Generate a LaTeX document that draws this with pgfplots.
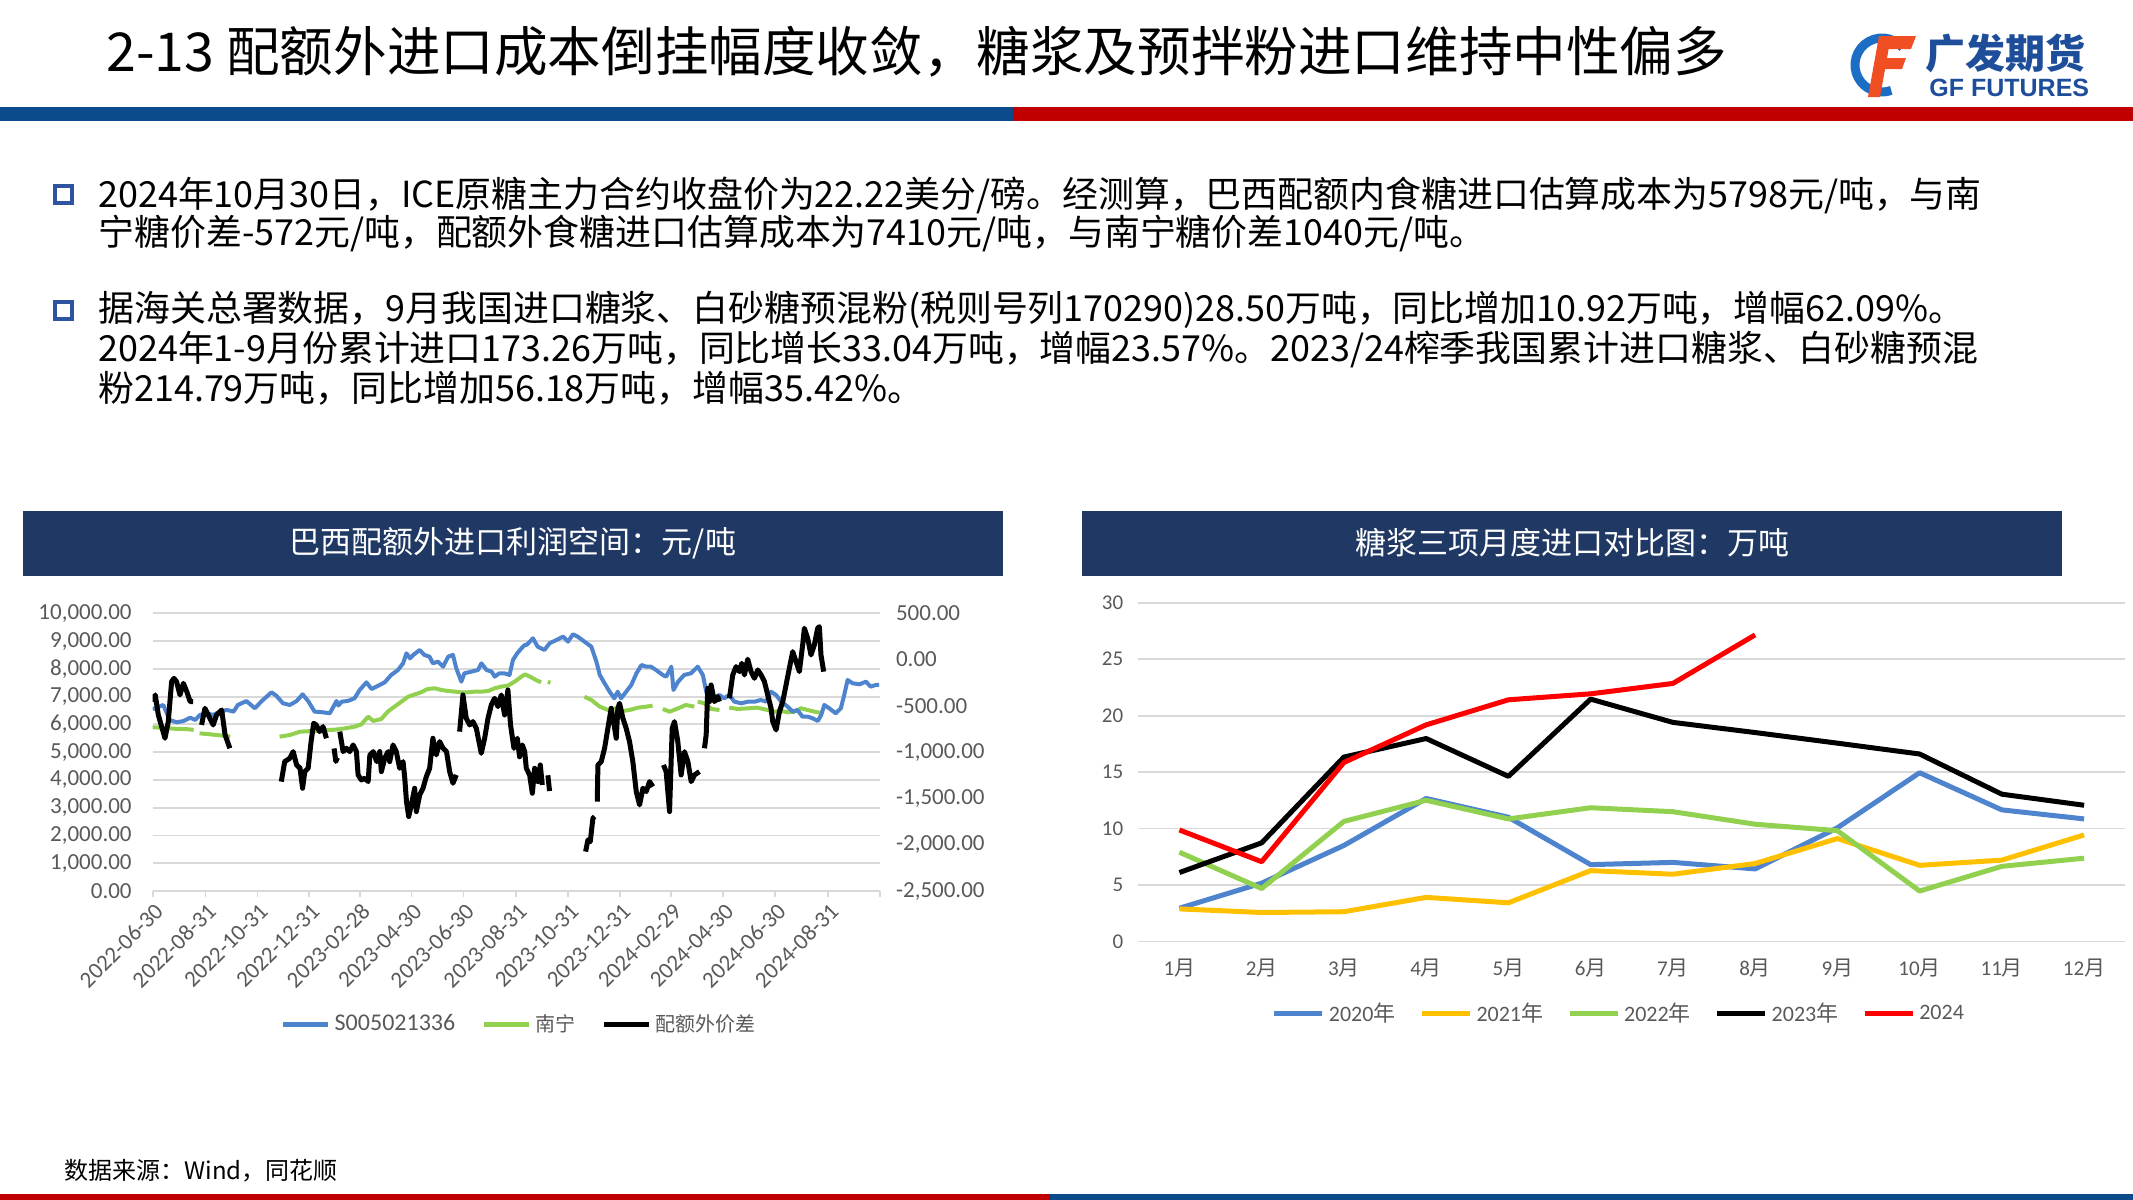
\documentclass[border=0pt]{standalone}
\usepackage{pgfplots}
\pgfplotsset{compat=1.18}
\usepackage{pgfplotstable}
\usepackage{fontspec}
\setmainfont{Carlito}
\newfontfamily\cjk{Noto Sans CJK SC}
\newfontfamily\lsans{Liberation Sans}

\definecolor{navy}{HTML}{1F3864}
\definecolor{bandblue}{HTML}{0B4A8B}
\definecolor{bandred}{HTML}{C00000}
\definecolor{sblue}{HTML}{4E83CD}
\definecolor{sgreen}{HTML}{92D050}
\definecolor{syellow}{HTML}{FFC000}
\definecolor{sred}{HTML}{FF0000}
\definecolor{gridc}{HTML}{D9D9D9}
\definecolor{tickc}{HTML}{595959}
\definecolor{bulletc}{HTML}{2E54A1}
\definecolor{logoblue}{HTML}{1E4E9A}
\definecolor{logoorange}{HTML}{F04E23}

% days since 2022-06-30
\pgfplotstableread{
d v
0 6550
6 6620
12.4 6700
20 6160
28 6075
36 6120
44 6240
50 6160
55.5 6340
63 6400
71 6340
79 6460
87 6520
95 6460
100 6700
110 6840
120 6580
128 6840
139.5 7155
145 7035
153 6760
161 6700
169 6840
176 7083
182.5 6843
190 6460
200 6435
208 6400
215.8 6843
218 6680
222 6819
229 6843
237 6939
243 7239
251 7515
257 7275
265 7395
272.5 7515
280 7779
288 7959
294 8199
298 8560
302 8380
306 8500
313.5 8680
319 8500
325 8440
329 8199
335 8259
341 8079
347 8440
352.6 8500
356.5 8019
362.4 7539
366 7839
374 7899
382 7959
386 8199
392 7959
398 7899
401.5 7719
407 7839
413 7839
419 7779
423 8319
428 8560
433 8740
437 8860
439 8860
446.5 9100
452 8800
460 8680
466 8920
474 9040
482 9160
487.6 8980
493.5 9244
499 9160
507 8980
515 8800
521 8259
525 7779
530.6 7479
536.5 7179
542 6939
546 7179
550 6939
556 7179
562 7419
568 7839
574 8139
579.5 8079
585 8079
591 7959
599 7779
603 7719
609 8079
611.5 7239
617 7539
624 7779
632 7839
640 8079
646 7779
650 7180
652 6939
658 6939
665.5 7059
671 6939
677 7059
683 6819
691 6759
699 6819
707 6819
714 6879
720 6819
726 7179
732 7059
738 6819
745.6 6639
751.5 6459
757 6519
763 6279
769 6279
775 6219
781 6123
785 6339
788.6 6699
794.5 6579
802 6399
808 6579
812 7059
816 7599
822 7479
830 7443
837.5 7539
843 7359
849 7419
853 7419
}\tblue

\pgfplotstableread{
d v
0 5900
10 5880
18 5860
28 5840
40 5830
48 5800
nan nan
55 5678
65 5650
75 5618
85 5590
91 5558
nan nan
149 5558
161 5618
173 5738
188 5762
200 5790
214 5810
226 5858
237 5918
245 6000
253 6279
259 6123
268.5 6195
276 6459
284 6639
292 6819
300 6999
308 7083
315 7155
323 7275
331 7299
339 7239
347 7203
355 7179
362 7155
370 7155
378 7179
386 7179
394 7203
401.5 7299
409 7359
417 7395
425 7539
433 7719
437 7803
443 7719
450 7599
456 7515
nan nan
464 7530
467 7500
nan nan
507 6999
515 6879
525 6639
534.5 6519
544 6579
552 6483
560 6519
570 6603
579.5 6639
587 6675
nan nan
599 6555
607 6459
617 6579
626 6699
636 6639
nan nan
640 6819
648 6759
656 6555
665.5 6519
nan nan
677 6603
687 6555
699 6579
710 6603
722 6519
730 6459
738 6483
746 6435
753.5 6459
761 6579
769 6519
777 6459
787 6399
}\tgreen

\pgfplotstableread{
d v
0 -454
3 -382
6.6 -598
14.4 -850
18.3 -670
22.2 -238
25 -202
28 -238
32 -382
36 -256
40 -346
44 -454
47.6 -454
nan nan
57.4 -706
61.3 -526
67.2 -634
71 -706
75 -598
81 -544
85 -814
90.6 -958
nan nan
151 -1318
155 -1102
161 -1066
165 -994
169 -1138
173 -1174
176 -1390
178.6 -1210
182.5 -1174
186 -886
189 -688
192 -706
196 -778
200 -724
204 -850
nan nan
213 -960
215 -1100
217 -1060
nan nan
219.7 -778
223.6 -994
227.5 -958
231.4 -994
235.3 -922
239.2 -994
241.2 -1246
245 -1300
249 -1282
253 -1318
255 -1030
259 -994
263 -1102
266.6 -994
268.5 -1210
272.5 -1066
276.4 -994
278.3 -1102
282.2 -922
286 -994
290 -1174
294 -1102
296 -1282
298 -1534
300.6 -1696
303.7 -1570
307.6 -1390
309.6 -1642
313.5 -1462
317.4 -1390
321.3 -1264
325.2 -1174
329 -850
333 -1030
337 -886
341 -958
345 -994
348.7 -1210
352.6 -1336
356.5 -1246
nan nan
360.4 -778
364.3 -382
368.2 -634
372.2 -706
376 -670
380 -742
385.8 -1012
389.8 -850
393.7 -634
397.6 -490
401.5 -418
405.4 -508
409.3 -382
413.2 -598
417.1 -328
420.2 -706
424.2 -958
428.1 -850
430.8 -1050
434 -922
436.8 -994
438.7 -1174
442.6 -1246
445.8 -1444
448.5 -1174
452.4 -1318
455.1 -1138
457.5 -1354
nan nan
464 -1250
466 -1420
nan nan
508.3 -2074
511.1 -1948
513.8 -1966
516.9 -1714
518.9 -1696
nan nan
522 -1534
522.8 -1138
526.7 -1102
530.6 -958
534.5 -742
538.4 -526
541.2 -670
544.3 -850
546.2 -526
548.2 -472
552.1 -634
556 -742
559.9 -886
563.8 -1102
567.8 -1426
571.7 -1570
575.6 -1390
579.5 -1426
583.4 -1318
587.3 -1372
nan nan
599.8 -1138
602.9 -1210
606.9 -1642
610 -742
612.7 -670
616.6 -886
620.5 -1246
624.4 -994
628.4 -1102
632.3 -1318
636.2 -1246
642 -1210
nan nan
647.9 -958
649.9 -814
651.8 -310
653.8 -454
655.7 -274
659.6 -454
663.5 -400
665.5 -454
nan nan
677.2 -418
681.1 -166
685 -76
689 -130
691.7 -40
694.8 -166
698.7 4
702.6 -130
706.6 -202
710.5 -112
714.4 -166
718.3 -238
722.2 -382
726.1 -526
728.1 -670
732 -760
735.9 -562
739.8 -454
743.7 -274
747.6 -94
751.5 86
755.4 -22
759.3 -130
763.2 158
765.2 338
769.1 230
773 50
776.9 158
780.8 338
782.8 356
784.7 50
787.9 -130
}\tblack

\begin{document}
\begin{tikzpicture}
\path[use as bounding box] (0,0) rectangle (1066.5pt,-600pt);

\begin{scope}[x=0.5pt,y=-0.5pt]
% title and bands
\node[anchor=west, inner sep=0] at (106,52) {\cjk\fontsize{26.8}{32}\selectfont 2-13 配额外进口成本倒挂幅度收敛，糖浆及预拌粉进口维持中性偏多};
\fill[bandblue] (0,107) rectangle (1013,121);
\fill[bandred] (1013,107) rectangle (2133,121);
\fill[bandred] (0,1194) rectangle (1050,1200);
\fill[bandblue] (1050,1194) rectangle (2133,1200);

% logo
\draw[line width=4.5pt, color={rgb,255:red,28;green,110;blue,196}] (1882,65) ++(-40:27) arc[start angle=-40, end angle=-290, radius=27];
\fill[logoorange] (1884,36) -- (1916,36) -- (1911,49) -- (1879,49) -- cycle;
\fill[logoorange] (1878,58) -- (1906,58) -- (1902,69) -- (1874,69) -- cycle;
\fill[logoorange] (1879,36) -- (1891,36) -- (1880,97) -- (1868,97) -- cycle;
\node[anchor=west, inner sep=0, text=logoblue] at (1925,53) {\cjk\bfseries\fontsize{20}{22}\selectfont 广发期货};
\node[anchor=west, inner sep=0, text=logoblue] at (1929,88) {\lsans\bfseries\fontsize{12.5}{14}\selectfont GF FUTURES};

% bullets
\draw[bulletc, line width=2.3pt] (55,186) rectangle (72,203);
\draw[bulletc, line width=2.3pt] (55,302) rectangle (72,319);
\begin{scope}[every node/.style={anchor=west, inner sep=0, font=\cjk\fontsize{17.95}{20}\selectfont}]
\node at (98,195) {2024年10月30日，ICE原糖主力合约收盘价为22.22美分/磅。经测算，巴西配额内食糖进口估算成本为5798元/吨，与南};
\node at (98,234) {宁糖价差-572元/吨，配额外食糖进口估算成本为7410元/吨，与南宁糖价差1040元/吨。};
\node at (98,310) {据海关总署数据，9月我国进口糖浆、白砂糖预混粉(税则号列170290)28.50万吨，同比增加10.92万吨，增幅62.09\%。};
\node at (98,349) {2024年1-9月份累计进口173.26万吨，同比增长33.04万吨，增幅23.57\%。2023/24榨季我国累计进口糖浆、白砂糖预混};
\node at (98,388) {粉214.79万吨，同比增加56.18万吨，增幅35.42\%。};
\end{scope}

% chart headers
\fill[navy] (23,511) rectangle (1003,576);
\fill[navy] (1082,511) rectangle (2062,576);
\node[text=white] at (513,543) {\cjk\fontsize{15.5}{18}\selectfont 巴西配额外进口利润空间：元/吨};
\node[text=white] at (1572,543) {\cjk\fontsize{15.5}{18}\selectfont 糖浆三项月度进口对比图：万吨};

% source
\node[anchor=west, inner sep=0] at (64,1171) {\cjk\fontsize{12}{14}\selectfont 数据来源：Wind，同花顺};
\end{scope}

% ---------------- left chart: left y axis ----------------
\begin{axis}[
  at={(76.35pt,-445.5pt)}, anchor=south west,
  scale only axis, width=363.65pt, height=138.85pt,
  xmin=0, xmax=854, ymin=0, ymax=10000,
  axis y line*=left, axis x line*=bottom,
  y axis line style={draw=none},
  x axis line style={gridc, line width=0.9pt},
  ytick={0,1000,...,10000},
  ymajorgrids, grid style={gridc, line width=0.9pt},
  xtick={0,62,123,184,243,304,365,427,488,549,609,670,731,793,854},
  xticklabels={2022-06-30,2022-08-31,2022-10-31,2022-12-31,2023-02-28,2023-04-30,2023-06-30,2023-08-31,2023-10-31,2023-12-31,2024-02-29,2024-04-30,2024-06-30,2024-08-31,{}},
  tick align=outside, major tick length=3pt,
  xtick style={gridc, line width=0.9pt},
  ytick style={draw=none},
  scaled y ticks=false,
  unbounded coords=jump,
  tick label style={font=\fontsize{11.5}{13}\selectfont, text=tickc},
  xticklabel style={rotate=45, anchor=east, xshift=2pt, yshift=-6pt},
  yticklabel style={xshift=-4pt, /pgf/number format/.cd, fixed, fixed zerofill, precision=2, 1000 sep={,}, assume math mode=true},
]
\addplot[sgreen, line width=2pt, line join=round] table[x=d, y=v] {\tgreen};
\addplot[sblue, line width=2pt, line join=round] table[x=d, y=v] {\tblue};
\end{axis}

% ---------------- left chart: right y axis ----------------
\begin{axis}[
  at={(76.35pt,-445.5pt)}, anchor=south west,
  scale only axis, width=363.65pt, height=138.85pt,
  xmin=0, xmax=854, ymin=-2500, ymax=500,
  axis y line*=right, axis x line=none,
  y axis line style={draw=none},
  ytick={-2500,-2000,...,500},
  ytick style={draw=none},
  scaled y ticks=false,
  unbounded coords=jump,
  tick label style={font=\fontsize{11.5}{13}\selectfont, text=tickc},
  yticklabel style={xshift=4.5pt, /pgf/number format/.cd, fixed, fixed zerofill, precision=2, 1000 sep={,}, assume math mode=true},
  legend style={at={(0.505,-0.48)}, anchor=center, draw=none, fill=none,
    font=\fontsize{12}{13}\selectfont, text=tickc,
    /tikz/every even column/.append style={column sep=11pt}},
  legend columns=-1,
  legend image code/.code={\draw[#1] (0pt,0pt) -- (22.5pt,0pt);},
]
\addlegendimage{sblue, line width=2.5pt}
\addlegendentry{S005021336}
\addlegendimage{sgreen, line width=2.5pt}
\addlegendentry{\cjk\fontsize{10}{12}\selectfont 南宁}
\addplot[black, line width=2.5pt, line join=round] table[x=d, y=v] {\tblack};
\addlegendentry{\cjk\fontsize{10}{12}\selectfont 配额外价差}
\end{axis}

% ---------------- right chart ----------------
\begin{axis}[
  at={(569.15pt,-470.7pt)}, anchor=south west,
  scale only axis, width=493.45pt, height=169.35pt,
  xmin=0.5, xmax=12.5, ymin=0, ymax=30,
  ytick={0,5,...,30},
  xtick={1,...,12},
  xticklabels={1{\cjk 月},2{\cjk 月},3{\cjk 月},4{\cjk 月},5{\cjk 月},6{\cjk 月},7{\cjk 月},8{\cjk 月},9{\cjk 月},10{\cjk 月},11{\cjk 月},12{\cjk 月}},
  ymajorgrids, grid style={gridc, line width=0.9pt},
  axis line style={draw=none},
  tick style={draw=none},
  tick label style={font=\fontsize{10.5}{12}\selectfont, text=tickc},
  xticklabel style={yshift=-5pt},
  yticklabel style={xshift=-4pt, /pgf/number format/assume math mode=true},
  legend style={at={(0.488,-0.213)}, anchor=center, draw=none, fill=none,
    font=\fontsize{11}{12}\selectfont, text=tickc,
    /tikz/every even column/.append style={column sep=10pt}},
  legend columns=-1,
  legend image code/.code={\draw[#1] (0pt,0pt) -- (24pt,0pt);},
]
\addplot[sblue, line width=2.5pt, line join=round] coordinates {(1,2.94) (2,5.16) (3,8.5) (4,12.66) (5,11.0) (6,6.8) (7,7.0) (8,6.42) (9,10.06) (10,14.94) (11,11.65) (12,10.85)};
\addlegendentry{2020{\cjk 年}}
\addplot[syellow, line width=2.5pt, line join=round] coordinates {(1,2.88) (2,2.56) (3,2.63) (4,3.9) (5,3.42) (6,6.27) (7,5.95) (8,6.9) (9,9.11) (10,6.74) (11,7.2) (12,9.43)};
\addlegendentry{2021{\cjk 年}}
\addplot[sgreen, line width=2.5pt, line join=round] coordinates {(1,7.9) (2,4.68) (3,10.63) (4,12.5) (5,10.85) (6,11.84) (7,11.49) (8,10.38) (9,9.81) (10,4.46) (11,6.65) (12,7.37)};
\addlegendentry{2022{\cjk 年}}
\addplot[black, line width=2.5pt, line join=round] coordinates {(1,6.1) (2,8.73) (3,16.33) (4,17.97) (5,14.62) (6,21.46) (7,19.4) (8,18.5) (9,17.56) (10,16.6) (11,13.04) (12,12.06)};
\addlegendentry{2023{\cjk 年}}
\addplot[sred, line width=2.5pt, line join=round] coordinates {(1,9.87) (2,7.06) (3,15.85) (4,19.18) (5,21.4) (6,21.93) (7,22.85) (8,27.15)};
\addlegendentry{2024}
\end{axis}
\end{tikzpicture}
\end{document}
